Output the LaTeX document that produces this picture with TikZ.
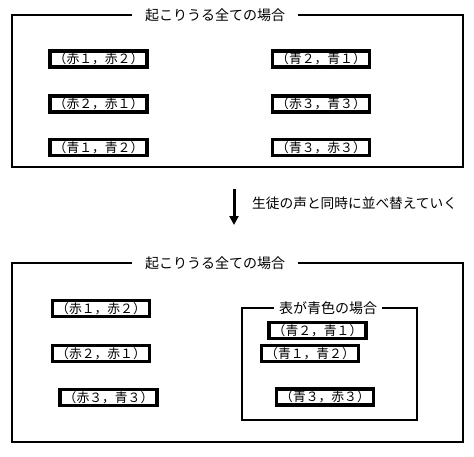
\documentclass[tikz,border=0pt]{standalone}
\usepackage{fontspec}
\newfontfamily\jp{Noto Sans CJK JP}
\usetikzlibrary{arrows.meta}
\tikzset{
  pairbox/.style={draw, line width=3.2pt, minimum width=97pt, minimum height=16pt, inner sep=0pt, font=\jp\fontsize{12.8}{14}\selectfont},
  frame/.style={draw, line width=1.8pt},
  ftitle/.style={fill=white, inner sep=0pt, minimum height=14pt, font=\jp\fontsize{14}{15}\selectfont},
}
\begin{document}
\begin{tikzpicture}[x=1pt,y=-1pt]
\useasboundingbox (0,0) rectangle (474,456);
% top frame
\draw[frame] (12,15) rectangle (463,167);
\node[ftitle, minimum width=166pt] (t1) at (215,15) {起こりうる全ての場合};
\node[pairbox] (a1) at (98.5,59) {（赤１，赤２）};
\node[pairbox] (a2) at (98.5,104) {（赤２，赤１）};
\node[pairbox] (a3) at (98.5,147.5) {（青１，青２）};
\node[pairbox] (b1) at (321,59) {（青２，青１）};
\node[pairbox] (b2) at (321,104) {（赤３，青３）};
\node[pairbox] (b3) at (321,147.5) {（青３，赤３）};
% arrow
\coordinate (s) at (234,189);
\coordinate (e) at (234,225);
\draw[line width=3pt, -{Triangle[length=9pt,width=9pt]}] (s) -- (e);
\node[anchor=west, font=\jp\fontsize{13.7}{15}\selectfont, inner sep=0pt] (note) at (252,203) {生徒の声と同時に並べ替えていく};
% bottom frame
\draw[frame] (12,263) rectangle (463,442);
\node[ftitle, minimum width=166pt] (t2) at (215,263) {起こりうる全ての場合};
\node[pairbox] (c1) at (101,308.5) {（赤１，赤２）};
\node[pairbox] (c2) at (101,353.5) {（赤２，赤１）};
\node[pairbox] (c3) at (108.5,397.5) {（赤３，青３）};
% inner frame
\draw[frame] (242,308) rectangle (417,420);
\node[ftitle, minimum width=108pt] (t3) at (328,308) {表が青色の場合};
\node[pairbox] (d1) at (317.5,330.5) {（青２，青１）};
\node[pairbox] (d2) at (310,353.5) {（青１，青２）};
\node[pairbox] (d3) at (325,397) {（青３，赤３）};
\end{tikzpicture}
\end{document}
